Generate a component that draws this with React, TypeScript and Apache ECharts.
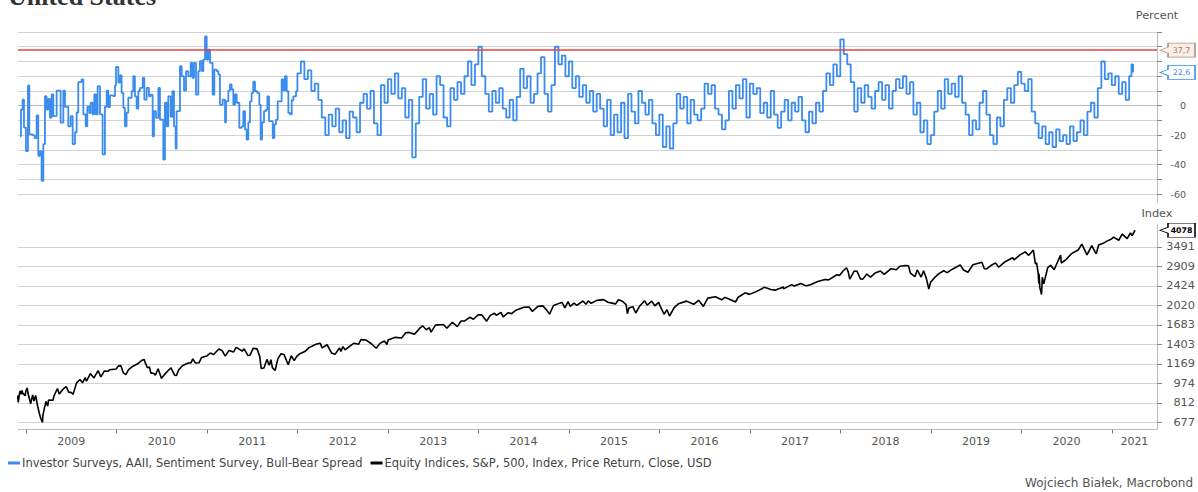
import React, { useEffect, useRef } from "react";
import * as echarts from "echarts";

const X_MIN = 2008.912;
const X_MAX = 2021.5;
const YEARS = [2009, 2010, 2011, 2012, 2013, 2014, 2015, 2016, 2017, 2018, 2019, 2020, 2021];
const PCT_TICKS = [-60, -50, -40, -30, -20, -10, 0, 10, 20, 30, 40, 50];
const PCT_LABELS = [-60, -40, -20, 0];
const PCT_MIN = -65.5;
const PCT_MAX = 50;
const INDEX_TICKS = [677, 812, 974, 1169, 1403, 1683, 2020, 2424, 2909, 3491];
const INDEX_MIN = 633;
const INDEX_MAX = 4283;
const SPREAD_THRESHOLD = 37.7;
const SPREAD_NAME = "Investor Surveys, AAII, Sentiment Survey, Bull-Bear Spread";
const SPX_NAME = "Equity Indices, S&P, 500, Index, Price Return, Close, USD";

// [decimal year, bull-bear spread %]
const SPREAD: [number, number][] = [
  [2008.934, -20.7], [2008.945, -2.6], [2008.963, 4.2], [2008.978, -14.8], [2009.0, -30.8],
  [2009.022, 13.7], [2009.037, -19.5], [2009.074, -20], [2009.096, -22], [2009.118, -6.6],
  [2009.136, -34], [2009.155, -30.8], [2009.173, -51], [2009.192, -26], [2009.21, 6.5],
  [2009.228, -2.6], [2009.247, 4.7], [2009.265, -8], [2009.284, 7.6], [2009.302, -7],
  [2009.339, 10.3], [2009.368, 10], [2009.383, -11.5], [2009.413, 10.3], [2009.431, -0.7],
  [2009.468, -14], [2009.494, -7], [2009.516, -26], [2009.542, -18], [2009.56, -4.6],
  [2009.578, 16], [2009.615, 17.8], [2009.634, -5.9], [2009.66, -14], [2009.678, -0.7],
  [2009.7, -5], [2009.715, 2.1], [2009.737, -5.9], [2009.755, 7.6], [2009.774, -5.9],
  [2009.792, 13.2], [2009.818, -5.9], [2009.847, -33], [2009.873, -0.7], [2009.892, 10.3],
  [2009.91, -1], [2009.929, 7], [2009.965, 6.5], [2009.984, 13.7], [2009.995, 26.4],
  [2010.021, 15.6], [2010.039, 20.6], [2010.057, 8.7], [2010.076, -1.4], [2010.094, -14],
  [2010.112, -4.8], [2010.131, 5.4], [2010.168, 9.8], [2010.186, 20], [2010.204, 6.4],
  [2010.223, -2], [2010.242, 9.8], [2010.26, 12.1], [2010.29, 18.8], [2010.308, 4.2],
  [2010.334, 12.1], [2010.36, 6.4], [2010.378, 7.5], [2010.4, -20.7], [2010.415, -3.7],
  [2010.437, -8.2], [2010.463, 12.1], [2010.481, -9.4], [2010.518, -36.5], [2010.536, 2],
  [2010.555, -14], [2010.573, 6.4], [2010.599, -7.5], [2010.618, 9.8], [2010.636, -14],
  [2010.654, -29], [2010.665, -3.7], [2010.702, 26.8], [2010.721, 20], [2010.747, 10.3],
  [2010.769, 23.4], [2010.794, 20], [2010.82, 29], [2010.839, 18.9], [2010.857, 29],
  [2010.879, 7.6], [2010.905, 23.4], [2010.923, 30.2], [2010.945, 23.4], [2010.96, 31.3],
  [2010.979, 47], [2010.997, 31.3], [2011.015, 38], [2011.034, 29], [2011.063, 7.6],
  [2011.082, 24.5], [2011.108, 23.4], [2011.126, 21.2], [2011.144, 0.6], [2011.174, 4.2],
  [2011.2, -11.3], [2011.211, 3], [2011.237, 10.3], [2011.255, 14.4], [2011.273, 11],
  [2011.292, 0.6], [2011.31, 7.6], [2011.329, 2], [2011.358, -15], [2011.384, -14],
  [2011.402, -3.7], [2011.421, -16.1], [2011.439, -23], [2011.457, -11.3], [2011.476, 3],
  [2011.494, 8.7], [2011.512, 16.3], [2011.531, 9.8], [2011.557, 8.7], [2011.579, 0.6],
  [2011.594, -23], [2011.609, -11.3], [2011.631, -3.7], [2011.653, -2.6], [2011.668, 6.4],
  [2011.686, -10.5], [2011.704, -10.5], [2011.727, -22], [2011.745, -12.7], [2011.763, -9.4],
  [2011.782, 3], [2011.808, 3], [2011.826, 17.8], [2011.845, 10.3], [2011.863, 20],
  [2011.882, 9.8], [2011.9, -4.8], [2011.919, -5.9], [2011.937, 3.7], [2011.955, 6.4],
  [2011.985, 9.8],
  [2012.0, 22], [2012.038, 30], [2012.077, 18], [2012.115, 24], [2012.154, 10], [2012.192, 15],
  [2012.231, 4], [2012.269, -8], [2012.308, -20], [2012.346, -6], [2012.385, -14], [2012.423, -2],
  [2012.462, -18], [2012.5, -10], [2012.538, -22], [2012.577, -4], [2012.615, -8], [2012.654, -18],
  [2012.692, 2], [2012.731, 8], [2012.769, -2], [2012.808, 10], [2012.846, -12], [2012.885, -20],
  [2012.923, 14], [2012.962, 2],
  [2013.0, 18], [2013.038, 8], [2013.077, 22], [2013.115, 5], [2013.154, 12], [2013.192, -8],
  [2013.231, 4], [2013.269, -35], [2013.308, -12], [2013.346, 6], [2013.385, 18], [2013.423, -2],
  [2013.462, 8], [2013.5, -6], [2013.538, 20], [2013.577, 14], [2013.615, -8], [2013.654, -14],
  [2013.692, 12], [2013.731, 4], [2013.769, 16], [2013.808, 8], [2013.846, 20], [2013.885, 30],
  [2013.923, 14], [2013.962, 28],
  [2014.0, 40], [2014.038, 20], [2014.077, 8], [2014.115, -4], [2014.154, 10], [2014.192, 2],
  [2014.231, 12], [2014.269, -2], [2014.308, -8], [2014.346, 4], [2014.385, -10], [2014.423, 6],
  [2014.462, 25], [2014.5, 12], [2014.538, 20], [2014.577, 2], [2014.615, 8], [2014.654, 22],
  [2014.692, 33], [2014.731, 8], [2014.769, -4], [2014.808, 14], [2014.846, 40], [2014.885, 28],
  [2014.923, 34], [2014.962, 20],
  [2015.0, 30], [2015.038, 12], [2015.077, 20], [2015.115, 6], [2015.154, 14], [2015.192, 2],
  [2015.231, 10], [2015.269, -4], [2015.308, 8], [2015.346, -2], [2015.385, -14], [2015.423, 4],
  [2015.462, -20], [2015.5, -6], [2015.538, -18], [2015.577, 2], [2015.615, -22], [2015.654, 8],
  [2015.692, -4], [2015.731, -12], [2015.769, 10], [2015.808, 2], [2015.846, -6], [2015.885, 4],
  [2015.923, -12], [2015.962, -20],
  [2016.0, -6], [2016.038, -28], [2016.077, -14], [2016.115, -29], [2016.154, -12], [2016.192, 8],
  [2016.231, -2], [2016.269, 6], [2016.308, -12], [2016.346, 4], [2016.385, -6], [2016.423, -10],
  [2016.462, -2], [2016.5, 15], [2016.538, 8], [2016.577, 14], [2016.615, -2], [2016.654, -6],
  [2016.692, -16], [2016.731, -10], [2016.769, 10], [2016.808, -2], [2016.846, 14], [2016.885, 5],
  [2016.923, 18], [2016.962, -8],
  [2017.0, 15], [2017.038, 8], [2017.077, 12], [2017.115, -5], [2017.154, 2], [2017.192, -8],
  [2017.231, 10], [2017.269, -6], [2017.308, -15], [2017.346, -4], [2017.385, 4], [2017.423, -10],
  [2017.462, 2], [2017.5, -4], [2017.538, 6], [2017.577, -10], [2017.615, -18], [2017.654, -4],
  [2017.692, -12], [2017.731, 2], [2017.769, -4], [2017.808, 10], [2017.846, 22], [2017.885, 14],
  [2017.923, 28], [2017.962, 20],
  [2018.0, 45], [2018.038, 35], [2018.077, 28], [2018.115, 16], [2018.154, -4], [2018.192, 12],
  [2018.231, 2], [2018.269, 14], [2018.308, 6], [2018.346, -2], [2018.385, 10], [2018.423, 16],
  [2018.462, 4], [2018.5, 14], [2018.538, -2], [2018.577, 10], [2018.615, 18], [2018.654, 12],
  [2018.692, 20], [2018.731, 8], [2018.769, 16], [2018.808, -6], [2018.846, 2], [2018.885, -18],
  [2018.923, -10], [2018.962, -26],
  [2019.0, -20], [2019.038, -4], [2019.077, 10], [2019.115, -2], [2019.154, 18], [2019.192, 8],
  [2019.231, 15], [2019.269, 6], [2019.308, 20], [2019.346, 2], [2019.385, -6], [2019.423, -20],
  [2019.462, -10], [2019.5, -16], [2019.538, 2], [2019.577, 10], [2019.615, -6], [2019.654, -20],
  [2019.692, -26], [2019.731, -8], [2019.769, -14], [2019.808, 4], [2019.846, 12], [2019.885, 2],
  [2019.923, 14], [2019.962, 23],
  [2020.0, 15], [2020.038, 10], [2020.077, 18], [2020.115, -4], [2020.154, -12], [2020.192, -22],
  [2020.231, -14], [2020.269, -26], [2020.308, -18], [2020.346, -28], [2020.385, -16], [2020.423, -24],
  [2020.462, -20], [2020.5, -26], [2020.538, -14], [2020.577, -24], [2020.615, -18], [2020.654, -10],
  [2020.692, -20], [2020.731, -4], [2020.769, 2], [2020.808, -8], [2020.846, 12], [2020.885, 30],
  [2020.923, 18], [2020.962, 22],
  [2021.0, 14], [2021.038, 20], [2021.077, 8], [2021.115, 16], [2021.154, 4], [2021.192, 20],
  [2021.218, 28], [2021.236, 22.6],
];

// [date, S&P 500 close]
const SPX: [string, number][] = [
  ["2008-11-28", 870], ["2008-12-01", 816], ["2008-12-05", 876], ["2008-12-08", 909], ["2008-12-12", 879],
  ["2008-12-16", 913], ["2008-12-19", 888], ["2008-12-29", 869], ["2008-12-31", 903], ["2009-01-06", 935],
  ["2009-01-09", 890], ["2009-01-20", 805], ["2009-01-23", 832], ["2009-01-28", 874], ["2009-02-02", 825],
  ["2009-02-09", 870], ["2009-02-17", 789], ["2009-02-23", 743], ["2009-03-02", 700], ["2009-03-09", 677],
  ["2009-03-10", 720], ["2009-03-17", 778], ["2009-03-23", 823], ["2009-03-30", 788], ["2009-04-02", 834],
  ["2009-04-20", 832], ["2009-04-24", 866], ["2009-05-08", 929], ["2009-05-15", 883], ["2009-05-29", 919],
  ["2009-06-12", 946], ["2009-06-23", 895], ["2009-07-02", 897], ["2009-07-10", 879], ["2009-07-24", 979],
  ["2009-08-07", 1010], ["2009-08-17", 979], ["2009-08-28", 1029], ["2009-09-02", 995], ["2009-09-18", 1068],
  ["2009-10-02", 1025], ["2009-10-19", 1097], ["2009-10-30", 1036], ["2009-11-13", 1093], ["2009-11-27", 1091],
  ["2009-12-04", 1106], ["2009-12-31", 1115], ["2010-01-08", 1145], ["2010-01-19", 1150], ["2010-01-29", 1074],
  ["2010-02-08", 1057], ["2010-02-19", 1109], ["2010-03-05", 1138], ["2010-03-26", 1167], ["2010-04-15", 1211],
  ["2010-04-23", 1217], ["2010-04-27", 1183], ["2010-05-06", 1128], ["2010-05-14", 1136], ["2010-05-20", 1071],
  ["2010-05-25", 1074], ["2010-06-04", 1064], ["2010-06-07", 1051], ["2010-06-18", 1117], ["2010-06-30", 1031],
  ["2010-07-02", 1022], ["2010-07-16", 1065], ["2010-07-30", 1102], ["2010-08-09", 1127], ["2010-08-24", 1051],
  ["2010-08-31", 1049], ["2010-09-10", 1110], ["2010-09-24", 1149], ["2010-10-15", 1176], ["2010-10-29", 1183],
  ["2010-11-05", 1225], ["2010-11-16", 1178], ["2010-11-30", 1181], ["2010-12-10", 1240], ["2010-12-31", 1258],
  ["2011-01-14", 1293], ["2011-01-28", 1276], ["2011-02-18", 1343], ["2011-03-04", 1321], ["2011-03-16", 1257],
  ["2011-03-31", 1326], ["2011-04-18", 1305], ["2011-04-29", 1364], ["2011-05-13", 1338], ["2011-05-23", 1317],
  ["2011-05-31", 1345], ["2011-06-15", 1265], ["2011-06-24", 1268], ["2011-07-07", 1354], ["2011-07-22", 1345],
  ["2011-08-02", 1254], ["2011-08-08", 1119], ["2011-08-10", 1120], ["2011-08-19", 1124], ["2011-08-31", 1219],
  ["2011-09-09", 1154], ["2011-09-16", 1216], ["2011-09-22", 1129], ["2011-10-03", 1099], ["2011-10-14", 1225],
  ["2011-10-27", 1285], ["2011-11-08", 1275], ["2011-11-25", 1159], ["2011-12-07", 1261], ["2011-12-19", 1206],
  ["2011-12-30", 1258], ["2012-01-13", 1289], ["2012-01-31", 1312], ["2012-02-17", 1361], ["2012-03-16", 1404],
  ["2012-04-02", 1419], ["2012-04-10", 1358], ["2012-04-30", 1398], ["2012-05-18", 1295], ["2012-06-01", 1278],
  ["2012-06-19", 1357], ["2012-06-25", 1314], ["2012-07-03", 1374], ["2012-07-12", 1334], ["2012-07-31", 1379],
  ["2012-08-17", 1418], ["2012-09-04", 1404], ["2012-09-14", 1466], ["2012-10-05", 1461], ["2012-10-26", 1411],
  ["2012-11-15", 1353], ["2012-11-30", 1416], ["2012-12-18", 1447], ["2012-12-28", 1402], ["2013-01-02", 1462],
  ["2013-01-31", 1498], ["2013-02-25", 1488], ["2013-03-14", 1563], ["2013-03-28", 1569], ["2013-04-18", 1541],
  ["2013-05-10", 1633], ["2013-05-21", 1669], ["2013-06-05", 1609], ["2013-06-17", 1640], ["2013-06-24", 1573],
  ["2013-07-12", 1680], ["2013-07-31", 1686], ["2013-08-14", 1685], ["2013-08-27", 1630], ["2013-09-18", 1725],
  ["2013-10-08", 1656], ["2013-10-23", 1746], ["2013-11-07", 1748], ["2013-11-27", 1807], ["2013-12-12", 1775],
  ["2013-12-31", 1848], ["2014-01-15", 1848], ["2014-02-03", 1742], ["2014-02-18", 1840], ["2014-03-07", 1878],
  ["2014-03-14", 1841], ["2014-04-02", 1891], ["2014-04-11", 1816], ["2014-04-30", 1884], ["2014-05-15", 1870],
  ["2014-05-30", 1924], ["2014-06-20", 1963], ["2014-07-03", 1985], ["2014-07-24", 1988], ["2014-08-07", 1910],
  ["2014-08-29", 2003], ["2014-09-18", 2011], ["2014-10-01", 1946], ["2014-10-15", 1862], ["2014-10-31", 2018],
  ["2014-11-28", 2068], ["2014-12-05", 2075], ["2014-12-16", 1972], ["2014-12-29", 2091], ["2015-01-06", 2003],
  ["2015-01-22", 2063], ["2015-02-02", 2021], ["2015-02-27", 2105], ["2015-03-11", 2040], ["2015-03-20", 2108],
  ["2015-04-01", 2060], ["2015-04-24", 2117], ["2015-05-21", 2131], ["2015-06-08", 2080], ["2015-06-29", 2058],
  ["2015-07-08", 2046], ["2015-07-20", 2128], ["2015-08-05", 2100], ["2015-08-20", 2035], ["2015-08-25", 1868],
  ["2015-08-31", 1972], ["2015-09-16", 1996], ["2015-09-28", 1881], ["2015-10-13", 2003], ["2015-11-03", 2109],
  ["2015-11-13", 2023], ["2015-12-01", 2103], ["2015-12-14", 2012], ["2015-12-29", 2078], ["2016-01-04", 2012],
  ["2016-01-20", 1859], ["2016-02-01", 1939], ["2016-02-11", 1829], ["2016-03-01", 1978], ["2016-03-18", 2050],
  ["2016-04-20", 2102], ["2016-05-19", 2040], ["2016-06-08", 2119], ["2016-06-27", 2000], ["2016-07-15", 2162],
  ["2016-08-15", 2190], ["2016-09-09", 2128], ["2016-09-22", 2177], ["2016-10-13", 2133], ["2016-11-04", 2085],
  ["2016-11-15", 2180], ["2016-12-13", 2271], ["2016-12-30", 2239], ["2017-01-26", 2297], ["2017-02-15", 2349],
  ["2017-03-01", 2396], ["2017-03-27", 2342], ["2017-04-13", 2329], ["2017-05-16", 2400], ["2017-05-17", 2357],
  ["2017-06-19", 2453], ["2017-06-29", 2419], ["2017-07-26", 2478], ["2017-08-10", 2438], ["2017-08-18", 2426],
  ["2017-09-05", 2458], ["2017-09-29", 2519], ["2017-10-31", 2575], ["2017-11-15", 2565], ["2017-12-18", 2690],
  ["2017-12-29", 2674], ["2018-01-12", 2786], ["2018-01-26", 2873], ["2018-02-02", 2762], ["2018-02-08", 2581],
  ["2018-02-26", 2780], ["2018-03-09", 2786], ["2018-03-23", 2588], ["2018-04-02", 2582], ["2018-04-18", 2708],
  ["2018-05-03", 2630], ["2018-05-21", 2733], ["2018-06-12", 2786], ["2018-06-27", 2699], ["2018-07-25", 2846],
  ["2018-08-15", 2818], ["2018-08-29", 2914], ["2018-09-20", 2931], ["2018-10-03", 2925], ["2018-10-11", 2729],
  ["2018-10-29", 2641], ["2018-11-07", 2814], ["2018-11-23", 2633], ["2018-12-03", 2790], ["2018-12-14", 2600],
  ["2018-12-24", 2351], ["2018-12-31", 2507], ["2019-01-15", 2610], ["2019-01-31", 2704], ["2019-02-22", 2793],
  ["2019-03-08", 2743], ["2019-03-29", 2834], ["2019-04-30", 2946], ["2019-05-13", 2812], ["2019-05-31", 2752],
  ["2019-06-20", 2954], ["2019-07-26", 3026], ["2019-08-05", 2844], ["2019-08-14", 2840], ["2019-08-30", 2926],
  ["2019-09-19", 3006], ["2019-10-02", 2887], ["2019-10-28", 3039], ["2019-11-27", 3154], ["2019-12-03", 3093],
  ["2019-12-27", 3240], ["2020-01-17", 3330], ["2020-01-31", 3226], ["2020-02-19", 3386], ["2020-02-27", 2979],
  ["2020-03-03", 3003], ["2020-03-09", 2747], ["2020-03-12", 2481], ["2020-03-13", 2711], ["2020-03-16", 2386],
  ["2020-03-23", 2237], ["2020-03-26", 2630], ["2020-04-01", 2471], ["2020-04-17", 2875], ["2020-04-29", 2940],
  ["2020-05-13", 2820], ["2020-06-08", 3232], ["2020-06-11", 3002], ["2020-06-30", 3100], ["2020-07-22", 3276],
  ["2020-08-18", 3390], ["2020-09-02", 3580], ["2020-09-23", 3237], ["2020-10-12", 3534], ["2020-10-30", 3270],
  ["2020-11-09", 3550], ["2020-11-30", 3622], ["2020-12-18", 3709], ["2020-12-31", 3756], ["2021-01-08", 3824],
  ["2021-01-29", 3714], ["2021-02-12", 3934], ["2021-03-04", 3768], ["2021-03-17", 3974], ["2021-03-24", 3881],
  ["2021-04-05", 4078],
];

const FONT = "'DejaVu Sans', Verdana, sans-serif";
const LN12 = Math.log(1.2);
const lg = (v: number) => Math.log(v) / LN12;
const toYear = (s: string) => {
  const d = Date.parse(s + "T00:00:00Z");
  const y = Number(s.slice(0, 4));
  const a = Date.UTC(y, 0, 1);
  const b = Date.UTC(y + 1, 0, 1);
  return y + (d - a) / (b - a);
};
const comma = (v: number) => v.toFixed(1).replace(".", ",");
const TAG = "path://M8,0 L35,0 L35,14 L8,14 L8,10 L0,7 L8,4 Z";

export default function App() {
  const ref = useRef<HTMLDivElement>(null);
  useEffect(() => {
    if (!ref.current) return;
    const chart = echarts.init(ref.current, undefined, { renderer: "svg" });
    const lastSpread = SPREAD[SPREAD.length - 1][1];
    const lastSpx = SPX[SPX.length - 1][1];
    const yearLabelPos = YEARS.map((y) => (Math.max(y, X_MIN) + Math.min(y + 1, X_MAX)) / 2);
    const gridLine = { show: true, lineStyle: { color: "#d3d3d3", width: 1 } };
    const axisGray = { show: true, lineStyle: { color: "#bdbdbd", width: 1 } };
    const tagBase = {
      symbol: TAG,
      symbolSize: [35, 14],
      symbolKeepAspect: false,
      symbolOffset: [20.5, 0],
      silent: true,
      label: { show: true, position: "inside", offset: [4, 0], fontSize: 7.8, fontFamily: FONT },
    };
    chart.setOption({
      animation: false,
      textStyle: { fontFamily: FONT },
      title: [
        {
          text: "United States",
          left: 8,
          top: -17,
          padding: 0,
          textStyle: { fontFamily: "'Liberation Serif', 'DejaVu Serif', serif", fontSize: 26, fontWeight: "bold", color: "#333" },
        },
        {
          text: "Wojciech Białek, Macrobond",
          right: 5,
          top: 477,
          padding: 0,
          textStyle: { fontFamily: FONT, fontSize: 12, fontWeight: "normal", color: "#555" },
        },
      ],
      legend: {
        left: 8,
        top: 457,
        padding: 0,
        itemGap: 8,
        itemWidth: 12,
        itemHeight: 3,
        icon: "rect",
        textStyle: { fontSize: 11.5, color: "#444", padding: [0, 0, 0, -3] },
        data: [SPREAD_NAME, SPX_NAME],
      },
      grid: [
        { left: 18, right: 41, top: 32, height: 170.3 },
        { left: 18, right: 41, top: 225, height: 204.5 },
      ],
      xAxis: [
        {
          type: "value",
          gridIndex: 0,
          min: X_MIN,
          max: X_MAX,
          axisLine: axisGray,
          axisTick: { show: false },
          axisLabel: { show: false },
          splitLine: { show: false },
        },
        {
          type: "value",
          gridIndex: 1,
          min: X_MIN,
          max: X_MAX,
          axisLine: axisGray,
          axisTick: { show: true, customValues: YEARS, length: 4, lineStyle: { color: "#777" } },
          axisLabel: {
            customValues: yearLabelPos,
            formatter: (v: number) => String(Math.floor(v)),
            color: "#555",
            fontSize: 11,
            margin: 6,
          },
          splitLine: { show: false },
        },
      ],
      yAxis: [
        {
          type: "value",
          gridIndex: 0,
          position: "right",
          min: PCT_MIN,
          max: PCT_MAX,
          name: "Percent",
          nameLocation: "end",
          nameGap: 11,
          nameTextStyle: { color: "#555", fontSize: 11.3, align: "center", verticalAlign: "bottom" },
          axisLine: axisGray,
          axisTick: { show: true, customValues: PCT_TICKS, length: 5, lineStyle: { color: "#888" } },
          axisLabel: { customValues: PCT_LABELS, color: "#555", fontSize: 9.5, align: "right", margin: 29 },
          splitLine: gridLine,
        },
        {
          type: "value",
          gridIndex: 1,
          position: "right",
          min: lg(INDEX_MIN),
          max: lg(INDEX_MAX),
          name: "Index",
          nameLocation: "end",
          nameGap: 6,
          nameTextStyle: { color: "#555", fontSize: 11.3, align: "center", verticalAlign: "bottom" },
          axisLine: axisGray,
          axisTick: { show: true, customValues: INDEX_TICKS.map(lg), length: 5, lineStyle: { color: "#888" } },
          axisLabel: {
            customValues: INDEX_TICKS.map(lg),
            formatter: (v: number) => String(Math.round(Math.pow(1.2, v))),
            color: "#555",
            fontSize: 11.3,
            align: "right",
            margin: 38,
          },
          splitLine: gridLine,
        },
      ],
      series: [
        {
          name: SPREAD_NAME,
          type: "line",
          xAxisIndex: 0,
          yAxisIndex: 0,
          step: "end",
          showSymbol: false,
          color: "#3a8cef",
          lineStyle: { width: 1.8, color: "#3a8cef" },
          data: SPREAD,
          markLine: {
            silent: true,
            symbol: ["none", "none"],
            label: { show: false },
            lineStyle: { color: "#e8423c", width: 1.5, type: "solid" },
            data: [{ yAxis: SPREAD_THRESHOLD }],
          },
          markPoint: {
            ...tagBase,
            data: [
              {
                coord: [X_MAX, SPREAD_THRESHOLD],
                value: SPREAD_THRESHOLD,
                itemStyle: { color: "#fbede3", borderColor: "#a39282", borderWidth: 1 },
                label: { color: "#8c7b6e", formatter: () => comma(SPREAD_THRESHOLD) },
              },
              {
                coord: [X_MAX, lastSpread],
                value: lastSpread,
                itemStyle: { color: "#ffffff", borderColor: "#3a8cef", borderWidth: 1 },
                label: { color: "#3a8cef", formatter: () => comma(lastSpread) },
              },
            ],
          },
        },
        {
          name: SPX_NAME,
          type: "line",
          xAxisIndex: 1,
          yAxisIndex: 1,
          showSymbol: false,
          color: "#000000",
          lineStyle: { width: 1.6, color: "#000000" },
          data: SPX.map(([d, v]) => [toYear(d), lg(v)]),
          markPoint: {
            ...tagBase,
            data: [
              {
                coord: [X_MAX, lg(lastSpx)],
                value: lastSpx,
                itemStyle: { color: "#ffffff", borderColor: "#000000", borderWidth: 1 },
                label: { color: "#000", fontWeight: "bold", formatter: () => String(lastSpx) },
              },
            ],
          },
        },
      ],
    });
    return () => chart.dispose();
  }, []);
  return <div ref={ref} style={{ position: "absolute", left: 0, top: 0, width: 1198, height: 492 }} />;
}
